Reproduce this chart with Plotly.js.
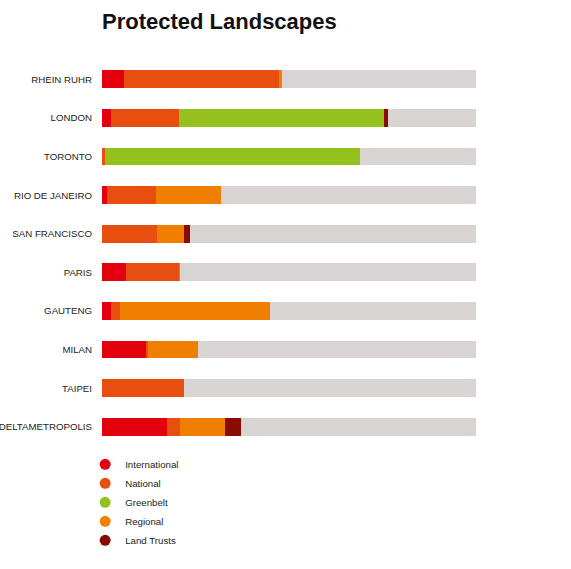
<!DOCTYPE html>
<html>
<head>
<meta charset="utf-8">
<script src="https://cdn.plot.ly/plotly-3.0.1.min.js"></script>
<style>html,body{margin:0;padding:0;background:#fff;}#chart{width:571px;height:569px;}</style>
</head>
<body>
<div id="chart"></div>
<script>
const cities = ["RHEIN RUHR","LONDON","TORONTO","RIO DE JANEIRO","SAN FRANCISCO","PARIS","GAUTENG","MILAN","TAIPEI","DELTAMETROPOLIS"];
const international = [5.9, 2.3, 0.0, 1.3, 0.0, 6.4, 2.5, 11.8, 0.0, 17.3];
const national      = [41.4, 18.2, 0.7, 13.1, 14.6, 14.2, 2.4, 0.5, 22.0, 3.5];
const greenbelt     = [0.0, 54.8, 68.2, 0.0, 0.0, 0.0, 0.0, 0.0, 0.0, 0.0];
const regional      = [0.7, 0.0, 0.0, 17.4, 7.2, 0.3, 40.1, 13.4, 0.0, 12.0];
const landTrusts    = [0.0, 1.1, 0.0, 0.0, 1.6, 0.0, 0.0, 0.0, 0.0, 4.4];
const unprotected   = [52.0, 23.6, 31.1, 68.2, 76.6, 79.1, 55.0, 74.3, 78.0, 62.8];

const seriesNames = ["International","National","Greenbelt","Regional","Land Trusts"];
const seriesColors = ["#e3000f","#e84e0f","#95c11f","#f07f00","#8a0b00"];
const seriesValues = [international, national, greenbelt, regional, landTrusts];

const traces = [];
seriesValues.forEach((vals, i) => {
  traces.push({
    type: "bar", orientation: "h", y: cities, x: vals, name: seriesNames[i],
    marker: {color: seriesColors[i], line: {width: 0}}, showlegend: false
  });
});
traces.push({
  type: "bar", orientation: "h", y: cities, x: unprotected, name: "Unprotected",
  marker: {color: "#d8d4d3", line: {width: 0}}, showlegend: false
});
seriesNames.forEach((n, i) => {
  traces.push({
    type: "scatter", mode: "markers", x: [null], y: [null], name: n,
    marker: {color: seriesColors[i], size: 11, symbol: "circle"}, showlegend: true
  });
});

const layout = {
  width: 571, height: 569,
  paper_bgcolor: "#fff", plot_bgcolor: "#fff",
  font: {family: "Liberation Sans, Arial, sans-serif", color: "#222", size: 9.7},
  title: {text: "Protected Landscapes", font: {family: "Liberation Sans, Arial, sans-serif", size: 22, color: "#111", weight: "bold"},
          xref: "paper", x: 0, xanchor: "left", yref: "container", y: 0.963, yanchor: "middle"},
  barmode: "stack", bargap: 0.535,
  margin: {l: 102, r: 95, t: 60, b: 123, pad: 0},
  xaxis: {range: [0, 100], visible: false, fixedrange: true},
  yaxis: {autorange: "reversed", showgrid: false, zeroline: false, showline: false, ticks: "",
          ticklabelstandoff: 9, tickfont: {size: 9.7, color: "#222"}, automargin: false},
  showlegend: true,
  legend: {x: -0.045, xanchor: "left", y: -0.01, yanchor: "top", orientation: "v", traceorder: "normal",
           font: {size: 9.7, color: "#222"}, bgcolor: "rgba(0,0,0,0)", itemclick: false}
};

Plotly.newPlot("chart", traces, layout, {displayModeBar: false, staticPlot: true});
</script>
</body>
</html>
